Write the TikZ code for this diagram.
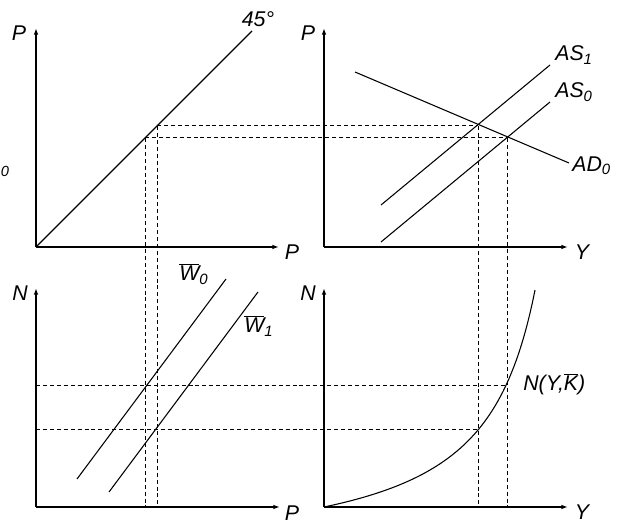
\documentclass[tikz,border=0pt]{standalone}
\usepackage{fontspec}
\setmainfont{Liberation Sans}
\usetikzlibrary{arrows.meta}
\begin{document}
\begin{tikzpicture}[x=0.75pt,y=-0.75pt,
  axis/.style={line width=1.5pt,-{Latex[length=5pt,width=3.5pt]}},
  curve/.style={line width=0.8pt},
  guide/.style={line width=0.75pt,dash pattern=on 3pt off 2.2pt},
  lbl/.style={font=\fontsize{16}{18}\selectfont\itshape,inner sep=0pt}]
\useasboundingbox (0,0) rectangle (621,523);
% axes coordinates
\coordinate (O1) at (36,247);  \coordinate (T1) at (36,28);  \coordinate (R1) at (279,247);
\coordinate (O2) at (324,247); \coordinate (T2) at (324,28); \coordinate (R2) at (568,247);
\coordinate (O3) at (36,507);  \coordinate (T3) at (36,288); \coordinate (R3) at (280,507);
\coordinate (O4) at (324,507); \coordinate (T4) at (324,288); \coordinate (R4) at (568,507);
\draw[axis] (O1) -- (T1); \draw[axis] (O1) -- (R1);
\draw[axis] (O2) -- (T2); \draw[axis] (O2) -- (R2);
\draw[axis] (O3) -- (T3); \draw[axis] (O3) -- (R3);
\draw[axis] (O4) -- (T4); \draw[axis] (O4) -- (R4);
% axis labels
\node[lbl] (p1) at (19,33) {P};
\node[lbl] (p1x) at (292,252) {P};
\node[lbl] (p2) at (308,33) {P};
\node[lbl] (y2) at (582,252) {Y};
\node[lbl] (n3) at (20,293) {N};
\node[lbl] (p3x) at (292,513) {P};
\node[lbl] (n4) at (308,293) {N};
\node[lbl] (y4) at (582,512) {Y};
\node[lbl,font=\fontsize{11}{12}\selectfont\itshape] (zero) at (5,171) {0};
% 45 degree line
\coordinate (L45) at (252,31);
\draw[curve] (O1) -- (L45);
\node[lbl] (deg) at (258,19) {45°};
% AD / AS
\coordinate (ADa) at (355,72);  \coordinate (ADb) at (569,163);
\coordinate (AS1a) at (381,205); \coordinate (AS1b) at (550,65);
\coordinate (AS0a) at (381,242); \coordinate (AS0b) at (550,102);
\draw[curve] (ADa) -- (ADb);
\draw[curve] (AS1a) -- (AS1b);
\draw[curve] (AS0a) -- (AS0b);
\node[lbl,anchor=west] (as1) at (555,55) {AS\textsubscript{\itshape 1}};
\node[lbl,anchor=west] (as0) at (555,92) {AS\textsubscript{\itshape 0}};
\node[lbl,anchor=west] (ad0) at (572,166) {AD\textsubscript{\itshape 0}};
% wage lines
\coordinate (W0a) at (77,479);  \coordinate (W0b) at (226,279);
\coordinate (W1a) at (109,492); \coordinate (W1b) at (258,292);
\draw[curve] (W0a) -- (W0b);
\draw[curve] (W1a) -- (W1b);
\node[lbl,anchor=west] (w0) at (179,274) {$\overline{\mbox{\itshape W}}$\textsubscript{\itshape 0}};
\node[lbl,anchor=west] (w1) at (244,326) {$\overline{\mbox{\itshape W}}$\textsubscript{\itshape 1}};
% production function
\draw[curve] plot[domain=0:211,samples=80] ({324+\x},{507-(14710/(265-\x)-55.51)});
\node[lbl,anchor=west] (nyk) at (523,384) {N(Y,$\overline{\mbox{\itshape K}}$)};
% guides
\coordinate (A) at (157,126); \coordinate (B) at (478,126);
\coordinate (C) at (145,138); \coordinate (D) at (507,138);
\coordinate (A3) at (157,507); \coordinate (B3) at (478,507);
\coordinate (C3) at (145,507); \coordinate (D3) at (507,507);
\coordinate (E) at (36,386); \coordinate (E2) at (507,386);
\coordinate (F) at (36,430); \coordinate (F2) at (478,430);
\draw[guide] (A) -- (B); \draw[guide] (C) -- (D);
\draw[guide] (A) -- (A3); \draw[guide] (C) -- (C3);
\draw[guide] (B) -- (B3); \draw[guide] (D) -- (D3);
\draw[guide] (E) -- (E2); \draw[guide] (F) -- (F2);
\end{tikzpicture}
\end{document}
